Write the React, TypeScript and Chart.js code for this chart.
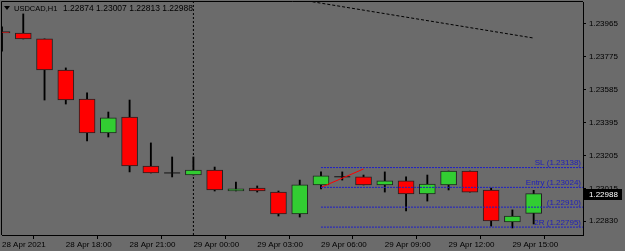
import React, { useEffect, useRef } from 'react';
import { Chart, registerables } from 'chart.js';

Chart.register(...registerables);

const symbolName = 'USDCAD,H1';
const timeLabels = ['28 Apr 2021', '28 Apr 18:00', '28 Apr 21:00', '29 Apr 00:00', '29 Apr 03:00', '29 Apr 06:00', '29 Apr 09:00', '29 Apr 12:00', '29 Apr 15:00'];
const tickBars = [0, 3, 6, 9, 12, 15, 18, 21, 24];

const opens = [1.23922, 1.23913, 1.23879, 1.23700, 1.23533, 1.23337, 1.23429, 1.23147, 1.23107, 1.23095, 1.23124, 1.23003, 1.23020, 1.22997, 1.22871, 1.23038, 1.23085, 1.23084, 1.23038, 1.23061, 1.22986, 1.23038, 1.23118, 1.23009, 1.22825, 1.22874];
const highs = [1.23948, 1.24023, 1.23879, 1.23712, 1.23568, 1.23458, 1.23527, 1.23280, 1.23199, 1.23199, 1.23141, 1.23055, 1.23032, 1.23003, 1.23066, 1.23113, 1.23113, 1.23095, 1.23113, 1.23084, 1.23095, 1.23118, 1.23118, 1.23020, 1.22894, 1.23007];
const lows = [1.23809, 1.23879, 1.23527, 1.23504, 1.23291, 1.23314, 1.23113, 1.23107, 1.23084, 1.23095, 1.23003, 1.23003, 1.22997, 1.22859, 1.22853, 1.23015, 1.23066, 1.23038, 1.22997, 1.22888, 1.22945, 1.23009, 1.22997, 1.22801, 1.22790, 1.22813];
const closes = [1.23913, 1.23879, 1.23700, 1.23527, 1.23337, 1.23424, 1.23147, 1.23107, 1.23107, 1.23124, 1.23009, 1.23015, 1.23003, 1.22871, 1.23038, 1.23090, 1.23085, 1.23038, 1.23061, 1.22986, 1.23043, 1.23118, 1.22997, 1.22830, 1.22859, 1.22988];

const priceTicks = [1.23965, 1.23775, 1.23585, 1.23395, 1.23205, 1.23015, 1.22830];

const levelNames = ['SL', 'Entry', '', '2R'];
const levelValues = [1.23138, 1.23024, 1.22910, 1.22795];
const levelStartBar = 15;

const riskBars = [15, 17];
const riskPrices = [1.23024, 1.23130];

const trendBars = [14.6, 25];
const trendPrices = [1.24093, 1.23884];

const separatorBar = 9;

const X_MIN = 0;
const X_MAX = 27.32;
const Y_MIN = 1.227496;
const Y_MAX = 1.240917;

const BG = '#6b6b6b';
const UP = '#32cd32';
const DOWN = '#ff0000';
const OUTLINE = '#222222';
const LEVEL = '#1e1ec8';
const LEVEL_TEXT = '#2020b8';
const FONT = '"Liberation Sans", Arial, sans-serif';

const zeroPad = (s: any) => {
  s.paddingLeft = 0;
  s.paddingRight = 0;
  s.paddingTop = 0;
  s.paddingBottom = 0;
};

export default function App() {
  const ref = useRef<HTMLCanvasElement | null>(null);

  useEffect(() => {
    const canvas = ref.current;
    if (!canvas) return;
    const idx = opens.map((_, i) => i);
    const isDoji = (i: number) => opens[i] === closes[i];

    const framePlugin = {
      id: 'frame',
      beforeDraw(chart: any) {
        const ctx = chart.ctx;
        ctx.save();
        ctx.fillStyle = BG;
        ctx.fillRect(0, 0, chart.width, chart.height);
        ctx.restore();
      },
      afterDraw(chart: any) {
        const ctx = chart.ctx;
        const a = chart.chartArea;
        const ys = chart.scales.y;
        ctx.save();
        ctx.strokeStyle = '#000';
        ctx.lineWidth = 1;
        ctx.beginPath();
        ctx.moveTo(Math.round(a.left) - 0.5, Math.round(a.bottom));
        ctx.lineTo(Math.round(a.left) - 0.5, Math.round(a.top) - 0.5);
        ctx.lineTo(Math.round(a.right), Math.round(a.top) - 0.5);
        ctx.stroke();

        // header
        ctx.fillStyle = '#000';
        ctx.beginPath();
        ctx.moveTo(4, 6);
        ctx.lineTo(10, 6);
        ctx.lineTo(7, 10);
        ctx.closePath();
        ctx.fill();
        ctx.font = `7.5px ${FONT}`;
        ctx.textBaseline = 'middle';
        ctx.textAlign = 'left';
        ctx.fillText(symbolName, 14, 8.5);
        const nx = Math.max(63, 14 + ctx.measureText(symbolName).width + 5);
        const last = opens.length - 1;
        ctx.font = `8.5px ${FONT}`;
        const ohlc = [opens[last], highs[last], lows[last], closes[last]].map((v) => v.toFixed(5)).join(' ');
        ctx.fillText(ohlc, nx, 8.5);

        // level labels
        ctx.font = `8px ${FONT}`;
        ctx.fillStyle = LEVEL_TEXT;
        ctx.textAlign = 'right';
        ctx.textBaseline = 'bottom';
        levelValues.forEach((v, k) => {
          const y = ys.getPixelForValue(v);
          const txt = (levelNames[k] ? levelNames[k] + ' ' : '') + '(' + v.toFixed(5) + ')';
          ctx.fillText(txt, a.right - 2, y - 0.5);
        });

        // current price tag
        const cp = closes[last];
        const py = ys.getPixelForValue(cp);
        ctx.fillStyle = '#000';
        ctx.fillRect(Math.round(a.right) + 1, Math.round(py) - 5, 38, 11);
        ctx.fillStyle = '#fff';
        ctx.textAlign = 'left';
        ctx.textBaseline = 'middle';
        ctx.fillText(cp.toFixed(5), a.right + 6, Math.round(py) + 0.5);
        ctx.restore();
      },
    };

    const axisFont = { family: FONT, size: 8 };

    const chart = new Chart(canvas, {
      type: 'bar',
      data: {
        datasets: [
          ...levelValues.map((v) => ({
            type: 'line',
            data: [{ x: levelStartBar, y: v }, { x: X_MAX, y: v }],
            borderColor: LEVEL,
            borderWidth: 1,
            borderDash: [2, 1],
            pointRadius: 0,
            order: 0,
          })),
          {
            type: 'line',
            data: riskBars.map((b, k) => ({ x: b, y: riskPrices[k] })),
            borderColor: DOWN,
            borderWidth: 1,
            pointRadius: 0,
            order: 0,
          },
          {
            type: 'line',
            data: trendBars.map((b, k) => ({ x: b, y: trendPrices[k] })),
            borderColor: '#000',
            borderWidth: 1,
            borderDash: [3, 2],
            pointRadius: 0,
            order: 0,
          },
          {
            type: 'line',
            data: [{ x: separatorBar, y: Y_MIN }, { x: separatorBar, y: Y_MAX }],
            borderColor: '#000',
            borderWidth: 1,
            borderDash: [2, 2],
            pointRadius: 0,
            order: 3,
          },
          {
            type: 'scatter',
            data: idx.filter(isDoji).map((i) => ({ x: i, y: opens[i] })),
            pointStyle: 'line',
            pointRadius: 8,
            borderColor: '#111',
            borderWidth: 1,
            order: 0,
          },
          {
            type: 'bar',
            data: idx.map((i) => ({ x: i, y: isDoji(i) ? null : [opens[i], closes[i]] })),
            backgroundColor: idx.map((i) => (closes[i] >= opens[i] ? UP : DOWN)),
            borderColor: OUTLINE,
            borderWidth: 1,
            borderSkipped: false,
            barThickness: 16,
            grouped: false,
            clip: 0,
            order: 1,
          },
          {
            type: 'bar',
            data: idx.map((i) => ({ x: i, y: [lows[i], highs[i]] })),
            backgroundColor: '#000',
            borderWidth: 0,
            barThickness: 1.2,
            grouped: false,
            clip: 0,
            order: 2,
          },
        ] as any,
      },
      options: {
        animation: false,
        responsive: false,
        devicePixelRatio: 1,
        layout: { autoPadding: false, padding: { left: 2, top: 2, right: 0, bottom: 0 } },
        plugins: { legend: { display: false }, tooltip: { enabled: false } },
        scales: {
          x: {
            type: 'linear',
            position: 'bottom',
            min: X_MIN,
            max: X_MAX,
            offset: false,
            grid: { drawOnChartArea: false, drawTicks: true, tickLength: 4, color: '#000' },
            border: { display: true, color: '#000' },
            ticks: {
              font: axisFont,
              color: '#000',
              align: 'start',
              maxRotation: 0,
              autoSkip: false,
              padding: 1,
              callback: (v: any) => {
                const k = tickBars.indexOf(Number(v));
                return k >= 0 ? timeLabels[k] : '';
              },
            },
            afterBuildTicks: (s: any) => {
              s.ticks = tickBars.map((v) => ({ value: v }));
            },
            afterFit: (s: any) => {
              s.height = 16;
              zeroPad(s);
            },
          },
          y: {
            type: 'linear',
            position: 'right',
            min: Y_MIN,
            max: Y_MAX,
            grid: { drawOnChartArea: false, drawTicks: true, tickLength: 3, color: '#000' },
            border: { display: true, color: '#000' },
            ticks: {
              font: axisFont,
              color: '#000',
              padding: 3,
              autoSkip: false,
              callback: (v: any) => Number(v).toFixed(5),
            },
            afterBuildTicks: (s: any) => {
              s.ticks = priceTicks.map((v) => ({ value: v }));
            },
            afterFit: (s: any) => {
              s.width = 42;
              zeroPad(s);
            },
          },
        },
      } as any,
      plugins: [framePlugin],
    });
    return () => chart.destroy();
  }, []);

  return (
    <div style={{ position: 'fixed', left: 0, top: 0, width: 625, height: 251, background: BG }}>
      <canvas ref={ref} width={625} height={251} style={{ display: 'block' }} />
    </div>
  );
}
